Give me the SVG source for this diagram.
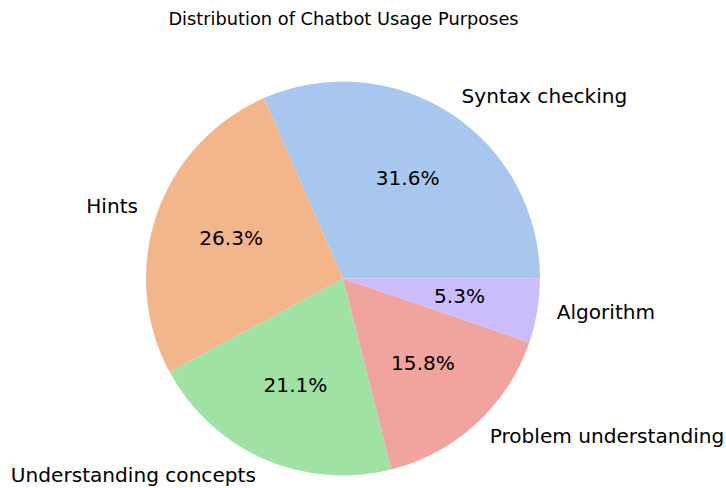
<svg xmlns="http://www.w3.org/2000/svg" width="726" height="488" viewBox="0 0 726 488">
  <style>
    text { font-family: "DejaVu Sans", "Liberation Sans", sans-serif; fill: #000; }
    .title { font-size: 17.8px; text-anchor: middle; }
    .lbl { font-size: 20.1px; }
    .pct { font-size: 20.1px; text-anchor: middle; }
    .start { text-anchor: start; }
    .end { text-anchor: end; }
  </style>
  <rect width="726" height="488" fill="#ffffff"/>
  <text class="title" x="343.5" y="25">Distribution of Chatbot Usage Purposes</text>

  <!-- pie wedges, centre (343, 278.5), radius 197, counter-clockwise from 0° -->
  <g id="wedge-syntax">
    <path d="M343,278.5 L540,278.5 A197,197 0 0 0 263.86,98.09 Z" fill="#a8c7ee"/>
    <text class="lbl start" x="461.5" y="102.7">Syntax checking</text>
    <text class="pct" x="407.7" y="184.8">31.6%</text>
  </g>
  <g id="wedge-hints">
    <path d="M343,278.5 L263.86,98.09 A197,197 0 0 0 169.74,372.26 Z" fill="#f3b68a"/>
    <text class="lbl end" x="138" y="213.2">Hints</text>
    <text class="pct" x="231.2" y="245">26.3%</text>
  </g>
  <g id="wedge-concepts">
    <path d="M343,278.5 L169.74,372.26 A197,197 0 0 0 391.36,469.47 Z" fill="#a0e2a3"/>
    <text class="lbl end" x="255.9" y="482">Understanding concepts</text>
    <text class="pct" x="295.5" y="391.8">21.1%</text>
  </g>
  <g id="wedge-problem">
    <path d="M343,278.5 L391.36,469.47 A197,197 0 0 0 529.33,342.47 Z" fill="#f1a39d"/>
    <text class="lbl start" x="489.7" y="442.8">Problem understanding</text>
    <text class="pct" x="423" y="370.4">15.8%</text>
  </g>
  <g id="wedge-algorithm">
    <path d="M343,278.5 L529.33,342.47 A197,197 0 0 0 540,278.5 Z" fill="#cbbdfb"/>
    <text class="lbl start" x="556.7" y="319">Algorithm</text>
    <text class="pct" x="459.6" y="302.9">5.3%</text>
  </g>
  <g id="connectors"/>
</svg>
